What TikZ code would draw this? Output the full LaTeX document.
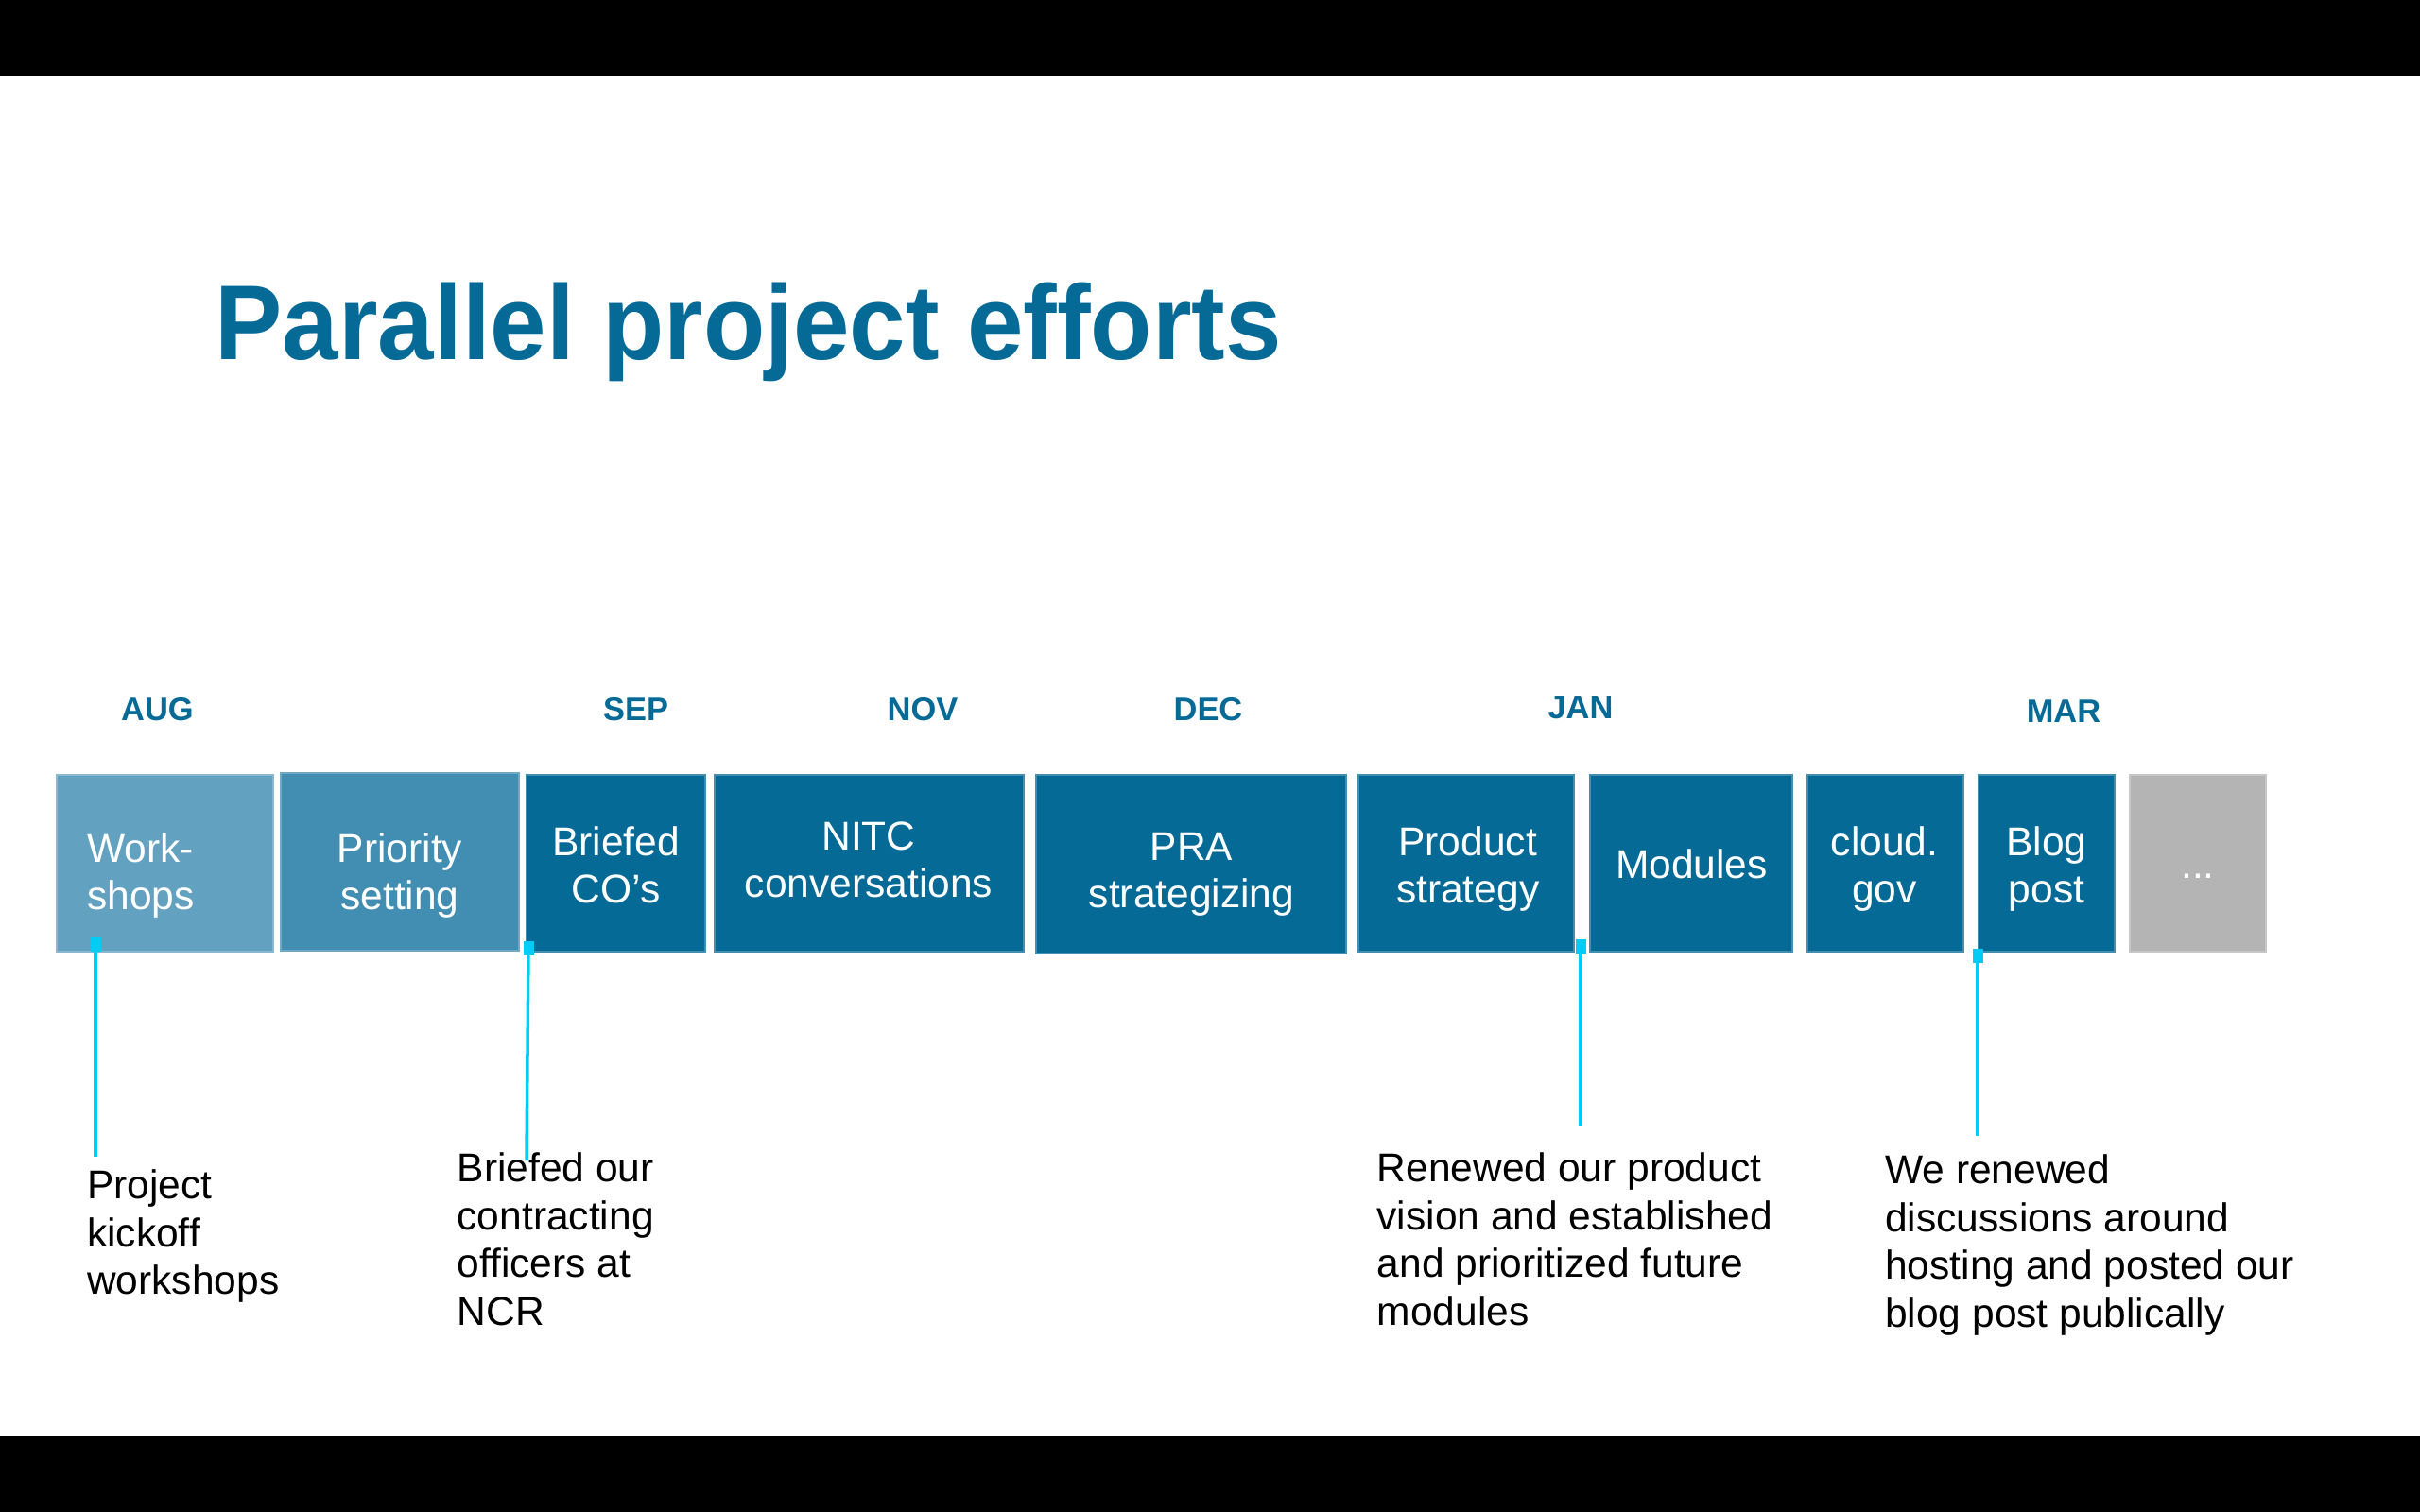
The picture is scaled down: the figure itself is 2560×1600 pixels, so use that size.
\documentclass[tikz,border=0pt]{standalone}
\usepackage{fontspec}
\setmainfont{Liberation Sans}
\newfontfamily\headfont[FakeStretch=0.95]{Liberation Sans}
\definecolor{navy}{HTML}{066A96}
\definecolor{skyA}{HTML}{62A1BF}
\definecolor{skyB}{HTML}{428DB2}
\definecolor{greybox}{HTML}{B4B4B4}
\definecolor{pin}{HTML}{00CCF5}
\begin{document}
\begin{tikzpicture}[x=0.1mm,y=-0.1mm,
  bar/.style={fill=black},
  phase/.style={rectangle,inner sep=0pt,outer sep=0pt,minimum height=18.7mm,
                fill=#1,draw=#1!75!white,line width=0.4pt},
  phasetext/.style={text=white,inner sep=0pt,align=center,
                    font=\fontsize{12.1}{14.2}\selectfont},
  month/.style={text=navy,inner sep=0pt,font=\fontsize{9.8}{11}\selectfont\bfseries},
  marker/.style={rectangle,fill=pin,inner sep=0pt,minimum width=1.1mm,minimum height=1.5mm},
  callout/.style={draw=pin,line width=1pt},
  note/.style={inner sep=0pt,align=left,anchor=north west,
               font=\fontsize{12.1}{14.4}\selectfont}]
\useasboundingbox (0,0) rectangle (2560,1600);
\fill[bar] (0,0) rectangle (2560,80);
\fill[bar] (0,1520) rectangle (2560,1600);

% title
\node[anchor=base west,inner sep=0pt,text=navy,font=\headfont\fontsize{32}{36}\selectfont\bfseries]
  (title) at (227,380) {Parallel project efforts};

% month labels
\node[month] (aug) at (166.5,751) {AUG};
\node[month] (sep) at (672.7,751) {SEP};
\node[month] (nov) at (976,751) {NOV};
\node[month] (dec) at (1278,751) {DEC};
\node[month] (jan) at (1672,749) {JAN};
\node[month] (mar) at (2183,753) {MAR};

% timeline boxes
\node[phase=skyA,minimum width=22.9mm] (b1) at (174.5,913.5) {};
\node[phase=skyB,minimum width=25.2mm,minimum height=18.8mm] (b2) at (423,912) {};
\node[phase=navy,minimum width=18.9mm] (b3) at (651.5,913.5) {};
\node[phase=navy,minimum width=32.7mm] (b4) at (919.5,913.5) {};
\node[phase=navy,minimum width=32.8mm,minimum height=18.9mm] (b5) at (1260,914.5) {};
\node[phase=navy,minimum width=22.8mm] (b6) at (1551,913.5) {};
\node[phase=navy,minimum width=21.4mm] (b7) at (1789,913.5) {};
\node[phase=navy,minimum width=16.5mm] (b8) at (1994.5,913.5) {};
\node[phase=navy,minimum width=14.4mm] (b9) at (2165,913.5) {};
\node[phase=greybox,minimum width=14.4mm] (b10) at (2325,913.5) {};

% box texts
\node[phasetext,align=left,anchor=north west] (l1) at (91.4,881) {Work-\\shops};
\node[phasetext,anchor=north] (l2) at (423,881) {Priority\\setting};
\node[phasetext,anchor=north] (l3) at (651.5,874) {Briefed\\CO’s};
\node[phasetext,anchor=north] (l4) at (919,869) {NITC\\conversations};
\node[phasetext,anchor=north] (l5) at (1260.5,881) {PRA\\strategizing};
\node[phasetext,anchor=north] (l6) at (1552.7,874) {Product\\strategy};
\node[phasetext] (l7) at (1789.5,914) {Modules};
\node[phasetext,anchor=north] (l8) at (1993.6,874) {cloud.\\gov};
\node[phasetext,anchor=north] (l9) at (2165,874) {Blog\\post};
\node[phasetext,anchor=base] (l10) at (2325,929) {...};

% callout pins and leader lines
\node[marker] (m1) at (101,999) {};
\node[marker] (m2) at (559,1003) {};
\node[marker] (m3) at (1672,1001) {};
\node[marker] (m4) at (2092,1011) {};
\coordinate (e1) at (101,1224);
\coordinate (e2) at (557,1228);
\coordinate (e3) at (1672,1192);
\coordinate (e4) at (2092,1202);
\draw[callout] (m1.center) -- (e1);
\draw[callout] (m2.center) -- (e2);
\draw[callout] (m3.center) -- (e3);
\draw[callout] (m4.center) -- (e4);

% callout notes
\node[note] (n1) at (91.4,1237) {Project\\kickoff\\workshops};
\node[note] (n2) at (483,1219) {Briefed our\\contracting\\officers at\\NCR};
\node[note] (n3) at (1456,1219) {Renewed our product\\vision and established\\and prioritized future\\modules};
\node[note] (n4) at (1993.5,1221) {We renewed\\discussions around\\hosting and posted our\\blog post publically};
\end{tikzpicture}
\end{document}
